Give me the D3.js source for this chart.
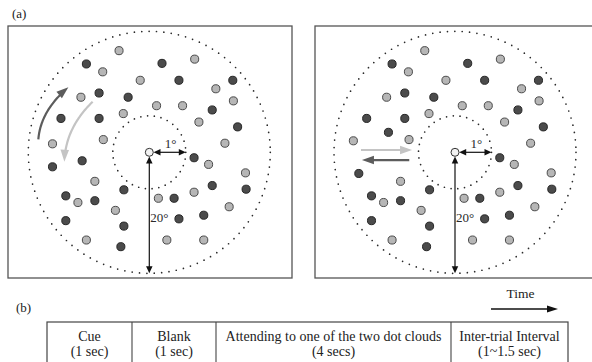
<!DOCTYPE html>
<html>
<head>
<meta charset="utf-8">
<script src="https://cdn.jsdelivr.net/npm/d3@7"></script>
<style>
  html, body { margin: 0; padding: 0; background: #fff; }
  svg { display: block; font-family: "Liberation Serif", "Times New Roman", serif; }
</style>
</head>
<body>
<svg id="fig" width="592" height="362"></svg>
<script>
// Dot clouds in field units (aperture edge = 1): [x, y, cloud]; D = dark cloud, L = light cloud
const rotationDots = [
  [-0.25, 0.84, "L"], [-0.52, 0.73, "D"], [-0.385, 0.665, "L"], [0.105, 0.735, "D"], [0.375, 0.77, "L"],
  [-0.075, 0.595, "L"], [0.245, 0.595, "D"], [0.69, 0.595, "D"], [0.55, 0.525, "L"], [-0.565, 0.455, "L"],
  [-0.415, 0.49, "D"], [-0.175, 0.455, "D"], [0.06, 0.385, "L"], [0.275, 0.385, "L"], [0.52, 0.35, "D"],
  [0.695, 0.425, "L"], [-0.73, 0.28, "D"], [-0.415, 0.28, "D"], [-0.215, 0.32, "L"], [0.41, 0.25, "L"],
  [0.73, 0.21, "D"], [-0.80, 0.07, "L"], [-0.38, 0.105, "L"], [0.625, 0.075, "L"], [-0.80, -0.12, "D"],
  [-0.555, -0.07, "D"], [0.37, -0.045, "D"], [0.49, -0.10, "L"], [0.795, -0.17, "L"], [-0.45, -0.24, "L"],
  [-0.21, -0.31, "D"], [0.52, -0.275, "D"], [0.80, -0.305, "D"], [-0.69, -0.36, "D"], [-0.59, -0.415, "L"],
  [-0.45, -0.40, "D"], [0.075, -0.38, "L"], [0.205, -0.38, "D"], [0.37, -0.33, "L"], [-0.28, -0.48, "L"],
  [0.66, -0.45, "L"], [-0.69, -0.565, "D"], [-0.21, -0.61, "D"], [0.245, -0.55, "D"], [0.45, -0.52, "D"],
  [-0.52, -0.725, "L"], [-0.235, -0.78, "D"], [0.145, -0.725, "L"], [0.45, -0.725, "L"]
];
const translationDots = [
  [-0.25, 0.84, "L"], [-0.52, 0.73, "D"], [-0.385, 0.665, "L"], [0.105, 0.735, "D"], [0.375, 0.77, "L"],
  [-0.075, 0.595, "L"], [0.245, 0.595, "D"], [0.69, 0.595, "D"], [0.55, 0.525, "L"], [-0.565, 0.455, "L"],
  [-0.415, 0.49, "D"], [-0.175, 0.455, "D"], [0.06, 0.385, "L"], [0.275, 0.385, "L"], [0.52, 0.35, "D"],
  [0.695, 0.425, "L"], [-0.73, 0.28, "D"], [-0.415, 0.28, "D"], [-0.215, 0.32, "L"], [0.41, 0.25, "L"],
  [0.73, 0.21, "D"], [-0.84, 0.095, "L"], [-0.38, 0.105, "L"], [0.625, 0.075, "L"], [-0.795, -0.175, "D"],
  [-0.55, 0.165, "D"], [0.37, -0.045, "D"], [0.49, -0.10, "L"], [0.795, -0.17, "L"], [-0.45, -0.24, "L"],
  [-0.21, -0.31, "D"], [0.52, -0.275, "D"], [0.80, -0.305, "D"], [-0.69, -0.36, "D"], [-0.59, -0.415, "L"],
  [-0.45, -0.40, "D"], [0.075, -0.38, "L"], [0.205, -0.38, "D"], [0.37, -0.33, "L"], [-0.28, -0.48, "L"],
  [0.66, -0.45, "L"], [-0.69, -0.565, "D"], [-0.21, -0.61, "D"], [0.245, -0.55, "D"], [0.45, -0.52, "D"],
  [-0.52, -0.725, "L"], [-0.235, -0.78, "D"], [0.145, -0.725, "L"], [0.45, -0.725, "L"]
];

// Motion cues: start, control, end points in field units
const rotationCues = [
  { cloud: "D", pts: [[-0.917, 0.107], [-0.898, 0.344], [-0.669, 0.537]] },
  { cloud: "L", pts: [[-0.468, 0.418], [-0.693, 0.201], [-0.702, -0.078]] }
];
const translationCues = [
  { cloud: "L", pts: [[-0.777, 0.019], [-0.566, 0.019], [-0.355, 0.019]] },
  { cloud: "D", pts: [[-0.378, -0.064], [-0.574, -0.064], [-0.769, -0.064]] }
];

// Eccentricities marked on the display (degrees of visual angle)
const ringEcc = [1, 20];
const ringLabels = ["1°", "20°"];

const panelLabels = ["(a)", "(b)"];
const phaseNames = ["Cue", "Blank", "Attending to one of the two dot clouds", "Inter-trial Interval"];
const phaseDurations = ["(1 sec)", "(1 sec)", "(4 secs)", "(1~1.5 sec)"];
const timeLabel = "Time";

// ---------- drawing ----------
const svg = d3.select("#fig");
svg.append("rect").attr("width", 592).attr("height", 362).attr("fill", "#fff");

const fill = { D: "#4b4b4b", L: "#b6b6b6" };
const edge = { D: "#262626", L: "#4a4a4a" };
const cueColor = { D: "#5c5c5c", L: "#c4c4c4" };

const R = 121, rIn = 36.5;

function arrowHead(g, tip, dir, len, wid, color) {
  const n = Math.hypot(dir[0], dir[1]);
  const ux = dir[0] / n, uy = dir[1] / n;
  const bx = tip[0] - ux * len, by = tip[1] - uy * len;
  const px = -uy * wid / 2, py = ux * wid / 2;
  g.append("polygon")
    .attr("points", [[tip[0], tip[1]], [bx + px, by + py], [bx - px, by - py]].map(p => p.join(",")).join(" "))
    .attr("fill", color);
}

function drawPanel(box, cx, cy, dots, cues) {
  const g = svg.append("g");
  g.append("rect")
    .attr("x", box[0]).attr("y", box[1]).attr("width", box[2]).attr("height", box[3])
    .attr("fill", "none").attr("stroke", "#555").attr("stroke-width", 1.3);

  const x = d3.scaleLinear().domain([-1, 1]).range([cx - R, cx + R]);
  const y = d3.scaleLinear().domain([-1, 1]).range([cy + R, cy - R]);
  const ecc = d3.scaleLinear().domain([0, 1, 20]).range([0, rIn, R]);

  // dotted eccentricity rings
  ringEcc.forEach((e, i) => {
    g.append("circle")
      .attr("cx", cx).attr("cy", cy).attr("r", ecc(e))
      .attr("fill", "none").attr("stroke", "#2a2a2a")
      .attr("stroke-width", 1.7).attr("stroke-linecap", "round")
      .attr("stroke-dasharray", i === 0 ? "0 6.8" : "0 7.4");
  });

  // dots of the two clouds
  g.selectAll("circle.dot").data(dots).join("circle")
    .attr("class", "dot")
    .attr("cx", d => x(d[0])).attr("cy", d => y(d[1])).attr("r", 4.05)
    .attr("fill", d => fill[d[2]]).attr("stroke", d => edge[d[2]]).attr("stroke-width", 1);

  // motion cue arrows (quadratic curves)
  cues.forEach(c => {
    const P = c.pts.map(p => [x(p[0]), y(p[1])]);
    const B = t => [
      (1 - t) * (1 - t) * P[0][0] + 2 * (1 - t) * t * P[1][0] + t * t * P[2][0],
      (1 - t) * (1 - t) * P[0][1] + 2 * (1 - t) * t * P[1][1] + t * t * P[2][1]
    ];
    const samples = d3.range(0, 0.86, 0.02).map(B);
    g.append("path")
      .attr("d", d3.line()(samples))
      .attr("fill", "none").attr("stroke", cueColor[c.cloud]).attr("stroke-width", 2.2);
    const dir = [P[2][0] - P[1][0], P[2][1] - P[1][1]];
    arrowHead(g, P[2], dir, 12, 8.5, cueColor[c.cloud]);
  });

  // fixation point
  g.append("circle").attr("cx", cx).attr("cy", cy).attr("r", 4)
    .attr("fill", "#f2f2f2").attr("stroke", "#333").attr("stroke-width", 1);

  // 1° measurement (horizontal)
  const h0 = cx + 4.2, h1 = cx + ecc(ringEcc[0]);
  g.append("line").attr("x1", h0 + 5).attr("x2", h1 - 5).attr("y1", cy).attr("y2", cy)
    .attr("stroke", "#111").attr("stroke-width", 1.2);
  arrowHead(g, [h0, cy], [-1, 0], 7, 6.5, "#111");
  arrowHead(g, [h1, cy], [1, 0], 7, 6.5, "#111");
  g.append("text").attr("x", (h0 + h1) / 2 + 1).attr("y", cy - 4.5)
    .attr("text-anchor", "middle").attr("font-size", 13).attr("fill", "#2a2a2a")
    .text(ringLabels[0]);

  // 20° measurement (vertical)
  const v0 = cy + 4.2, v1 = cy + ecc(ringEcc[1]);
  g.append("line").attr("x1", cx).attr("x2", cx).attr("y1", v0 + 5).attr("y2", v1 - 5)
    .attr("stroke", "#111").attr("stroke-width", 1.2);
  arrowHead(g, [cx, v0], [0, -1], 7, 6.5, "#111");
  arrowHead(g, [cx, v1], [0, 1], 7, 6.5, "#111");
  g.append("text").attr("x", cx + 1).attr("y", cy + 70)
    .attr("font-size", 13).attr("fill", "#2a2a2a")
    .text(ringLabels[1]);
}

svg.append("text").attr("x", 12).attr("y", 18).attr("font-size", 13).attr("fill", "#222").text(panelLabels[0]);

drawPanel([8, 26, 284, 252], 149.3, 152.3, rotationDots, rotationCues);
drawPanel([315, 26, 284, 252], 455, 152.3, translationDots, translationCues);

// ---------- (b) trial timeline ----------
svg.append("text").attr("x", 16).attr("y", 312).attr("font-size", 13).attr("fill", "#222").text(panelLabels[1]);

svg.append("text").attr("x", 520.5).attr("y", 298).attr("text-anchor", "middle")
  .attr("font-size", 13.5).attr("fill", "#222").text(timeLabel);
const tg = svg.append("g");
tg.append("line").attr("x1", 491).attr("x2", 549).attr("y1", 309).attr("y2", 309)
  .attr("stroke", "#111").attr("stroke-width", 1.4);
arrowHead(tg, [558, 309], [1, 0], 11, 7, "#111");

const colEdges = [47, 132, 216, 451, 568];
const tableTop = 322, tableBottom = 364;
const table = svg.append("g");
table.append("rect")
  .attr("x", colEdges[0]).attr("y", tableTop)
  .attr("width", colEdges[4] - colEdges[0]).attr("height", tableBottom - tableTop)
  .attr("fill", "none").attr("stroke", "#444").attr("stroke-width", 1.2);
table.selectAll("line.div").data(colEdges.slice(1, 4)).join("line")
  .attr("class", "div")
  .attr("x1", d => d).attr("x2", d => d).attr("y1", tableTop).attr("y2", tableBottom)
  .attr("stroke", "#444").attr("stroke-width", 1.1);

const cells = phaseNames.map((n, i) => ({ name: n, dur: phaseDurations[i], mid: (colEdges[i] + colEdges[i + 1]) / 2 }));
table.selectAll("text.name").data(cells).join("text")
  .attr("class", "name").attr("x", d => d.mid).attr("y", 341)
  .attr("text-anchor", "middle").attr("font-size", 14).attr("fill", "#222")
  .text(d => d.name);
table.selectAll("text.dur").data(cells).join("text")
  .attr("class", "dur").attr("x", d => d.mid).attr("y", 355.5)
  .attr("text-anchor", "middle").attr("font-size", 14).attr("fill", "#222")
  .text(d => d.dur);
</script>
</body>
</html>
